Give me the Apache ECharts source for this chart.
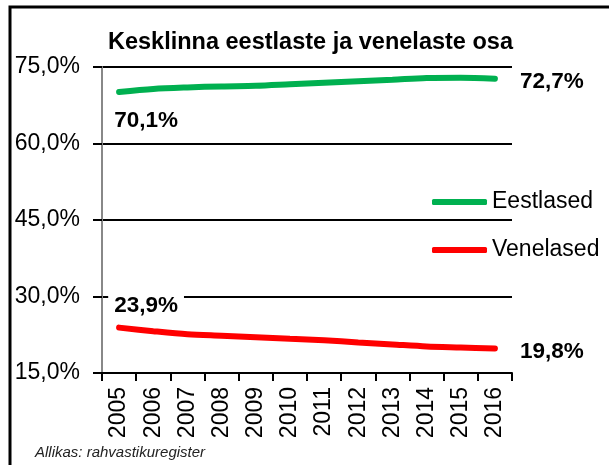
<!DOCTYPE html>
<html>
<head>
<meta charset="utf-8">
<script src="https://cdn.jsdelivr.net/npm/echarts@6/dist/echarts.min.js"></script>
<style>
  html, body { margin: 0; padding: 0; background: #fff; }
  #main { width: 609px; height: 465px; }
</style>
</head>
<body>
<div id="main"></div>
<script>
var years = ['2005', '2006', '2007', '2008', '2009', '2010', '2011', '2012', '2013', '2014', '2015', '2016'];
var eestlased = [70.1, 70.7, 71.0, 71.2, 71.3, 71.6, 71.9, 72.2, 72.5, 72.85, 72.9, 72.7];
var venelased = [23.9, 23.2, 22.6, 22.3, 22.0, 21.7, 21.4, 21.0, 20.6, 20.2, 20.0, 19.8];
var seriesNames = ['Eestlased', 'Venelased'];
var seriesColors = ['#00b050', '#ff0000'];

var FONT = '"Liberation Sans", Arial, sans-serif';

function pct(v) {
    return v.toFixed(1).replace('.', ',') + '%';
}

// silt ainult esimesele ja viimasele punktile
function endLabels(values, firstOffset) {
    return values.map(function (v, i) {
        var item = {value: v};
        if (i === 0) {
            item.label = {show: true, offset: firstOffset};
        } else if (i === values.length - 1) {
            item.label = {show: true, offset: [57, 3]};
        }
        return item;
    });
}

function makeSeries(name, color, values, firstOffset) {
    return {
        name: name,
        type: 'line',
        smooth: 0.3,
        symbol: 'circle',
        symbolSize: 1,
        showSymbol: true,
        data: endLabels(values, firstOffset),
        lineStyle: {color: color, width: 6, cap: 'round'},
        itemStyle: {color: color},
        label: {
            show: false,
            position: 'inside',
            formatter: function (p) { return pct(p.value); },
            fontFamily: FONT,
            fontSize: 22.5,
            fontWeight: 'bold',
            color: '#000',
            backgroundColor: '#fff',
            padding: [2, 6]
        },
        z: 3
    };
}

var option = {
    animation: false,
    backgroundColor: '#fff',
    title: {
        text: 'Kesklinna eestlaste ja venelaste osa',
        left: 108,
        top: 31,
        padding: 0,
        textStyle: {fontFamily: FONT, fontSize: 23.5, fontWeight: 'bold', color: '#000'}
    },
    legend: {
        orient: 'vertical',
        left: 427,
        top: 185,
        itemWidth: 55,
        itemHeight: 6,
        itemGap: 24,
        icon: 'roundRect',
        data: seriesNames,
        textStyle: {fontFamily: FONT, fontSize: 23, color: '#000', lineHeight: 24}
    },
    grid: {left: 102, right: 97, top: 67, bottom: 92},
    xAxis: {
        type: 'category',
        data: years,
        boundaryGap: true,
        axisLine: {lineStyle: {color: '#000', width: 2}},
        axisTick: {show: true, length: 8, lineStyle: {color: '#000', width: 2}},
        axisLabel: {rotate: 90, margin: 14, fontFamily: FONT, fontSize: 23, color: '#000'}
    },
    yAxis: {
        type: 'value',
        min: 15,
        max: 75,
        interval: 15,
        axisLine: {show: true, lineStyle: {color: '#888', width: 2}},
        axisTick: {show: true, length: 9, lineStyle: {color: '#000', width: 2}},
        axisLabel: {margin: 22, fontFamily: FONT, fontSize: 23, color: '#000', formatter: pct},
        splitLine: {lineStyle: {color: '#000', width: 2}}
    },
    graphic: [
        {
            type: 'rect',
            shape: {x: 10, y: 7, width: 700, height: 600},
            style: {fill: 'none', stroke: '#000', lineWidth: 3},
            z: 0
        },
        {
            type: 'text',
            left: 35,
            top: 445,
            style: {
                text: 'Allikas: rahvastikuregister',
                fontFamily: FONT,
                fontSize: 15,
                fontStyle: 'italic',
                fill: '#222'
            }
        }
    ],
    series: [
        makeSeries(seriesNames[0], seriesColors[0], eestlased, [27, 29]),
        makeSeries(seriesNames[1], seriesColors[1], venelased, [27, -22])
    ]
};

var myChart = echarts.init(document.getElementById('main'));
myChart.setOption(option);
</script>
</body>
</html>
